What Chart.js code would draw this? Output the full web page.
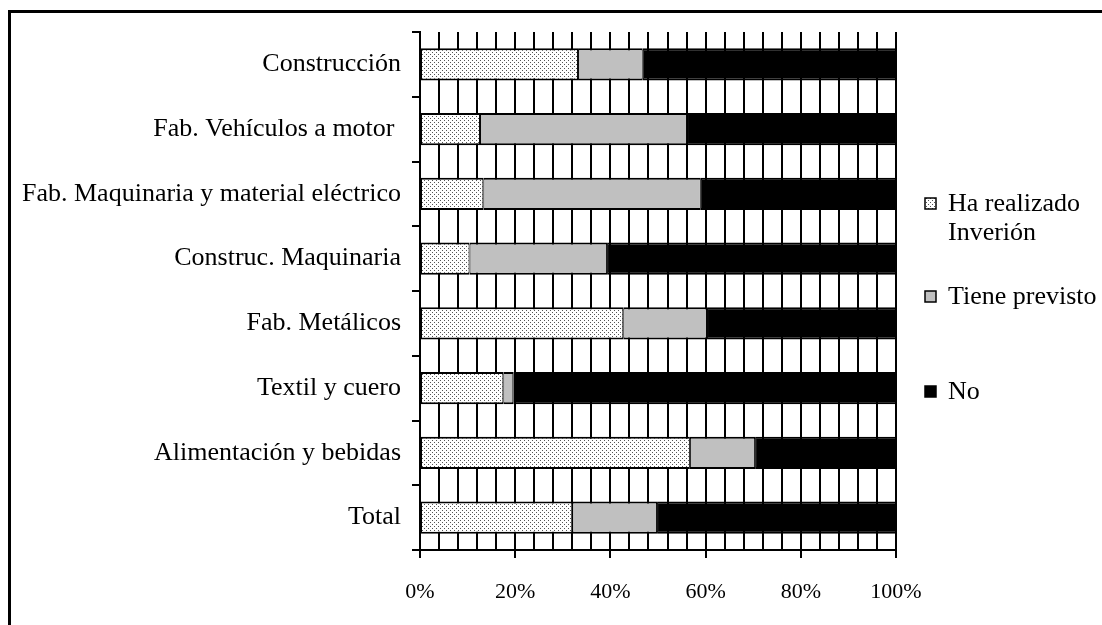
<!DOCTYPE html>
<html>
<head>
<meta charset="utf-8">
<script src="https://cdn.jsdelivr.net/npm/chart.js@4"></script>
<style>
  html, body { margin: 0; padding: 0; background: #fff; }
  #frame {
    position: absolute; left: 8px; top: 10px; width: 1200px; height: 700px;
    border-left: 3px solid #000; border-top: 3px solid #000;
  }
  #chart { position: absolute; left: 0; top: 0; }
</style>
</head>
<body>
<div id="frame"></div>
<canvas id="chart" width="1102" height="625"></canvas>
<script>
// Categories (top to bottom) and percent shares
const categories = [
  'Construcción',
  'Fab. Vehículos a motor ',
  'Fab. Maquinaria y material eléctrico',
  'Construc. Maquinaria',
  'Fab. Metálicos',
  'Textil y cuero',
  'Alimentación y bebidas',
  'Total'
];
const realizado = [33.2, 12.6, 13.3, 10.4, 42.7, 17.5, 56.7, 32.0];
const previsto = [13.6, 43.5, 45.7, 28.9, 17.6, 2.1, 13.7, 17.8];
const noInvierte = [53.2, 43.9, 41.0, 60.7, 39.7, 80.4, 29.6, 50.2];
const seriesNames = [['Ha realizado', 'Inverión'], ['Tiene previsto'], ['No']];
const xTicks = [0, 20, 40, 60, 80, 100];

const FONT = '"Liberation Serif", "Times New Roman", serif';

// dotted fill like the old Excel pattern
function dotPattern() {
  const c = document.createElement('canvas');
  c.width = 4; c.height = 4;
  const g = c.getContext('2d');
  g.fillStyle = '#fff';
  g.fillRect(0, 0, 4, 4);
  g.fillStyle = '#555';
  g.fillRect(0, 0, 1, 1);
  g.fillRect(2, 2, 1, 1);
  return g.createPattern(c, 'repeat');
}
const dots = dotPattern();

// legend drawn by hand so the first label can wrap on two lines
const sideLegend = {
  id: 'sideLegend',
  afterDraw(chart) {
    const ctx = chart.ctx;
    const x = chart.chartArea.right + 29;
    const centers = [204, 297, 392];
    ctx.save();
    ctx.font = '26px ' + FONT;
    ctx.textBaseline = 'middle';
    chart.data.datasets.forEach((ds, i) => {
      const y = centers[i];
      ctx.fillStyle = ds.backgroundColor;
      ctx.fillRect(x, y - 6, 11, 11);
      ctx.strokeStyle = '#000';
      ctx.lineWidth = 1.5;
      ctx.strokeRect(x, y - 6, 11, 11);
      ctx.fillStyle = '#000';
      seriesNames[i].forEach((line, j) => {
        ctx.fillText(line, x + 23, y + j * 29);
      });
    });
    ctx.restore();
  }
};

new Chart(document.getElementById('chart'), {
  type: 'bar',
  data: {
    labels: categories,
    datasets: [
      { label: seriesNames[0].join(' '), data: realizado, backgroundColor: dots },
      { label: seriesNames[1][0], data: previsto, backgroundColor: '#c0c0c0' },
      { label: seriesNames[2][0], data: noInvierte, backgroundColor: '#000' }
    ].map(d => Object.assign(d, {
      borderColor: '#000',
      borderWidth: { top: 2, bottom: 2, left: 1, right: 1 },
      borderSkipped: false,
      categoryPercentage: 1,
      barPercentage: 0.5
    }))
  },
  options: {
    indexAxis: 'y',
    responsive: false,
    animation: false,
    devicePixelRatio: 1,
    layout: { padding: { left: 0, top: 32, right: 206, bottom: 0 } },
    plugins: { legend: { display: false }, tooltip: { enabled: false } },
    scales: {
      x: {
        stacked: true,
        min: 0,
        max: 100,
        afterFit: s => { s.height = 75; },
        ticks: {
          stepSize: 4,
          autoSkip: false,
          maxRotation: 0,
          padding: 21,
          color: '#000',
          font: { family: FONT, size: 22 },
          callback: v => xTicks.includes(v) ? v + '%' : ''
        },
        grid: {
          color: '#000',
          lineWidth: 2,
          tickLength: 8,
          tickColor: ctx => (ctx.tick && xTicks.includes(ctx.tick.value)) ? '#000' : 'rgba(0,0,0,0)'
        },
        border: { color: '#000', width: 2 }
      },
      y: {
        stacked: true,
        afterFit: s => { s.width = 420; },
        ticks: {
          padding: 11,
          color: '#000',
          font: { family: FONT, size: 26 }
        },
        grid: {
          offset: true,
          drawOnChartArea: false,
          color: '#000',
          lineWidth: 2,
          tickLength: 8
        },
        border: { color: '#000', width: 2 }
      }
    }
  },
  plugins: [sideLegend]
});
</script>
</body>
</html>
